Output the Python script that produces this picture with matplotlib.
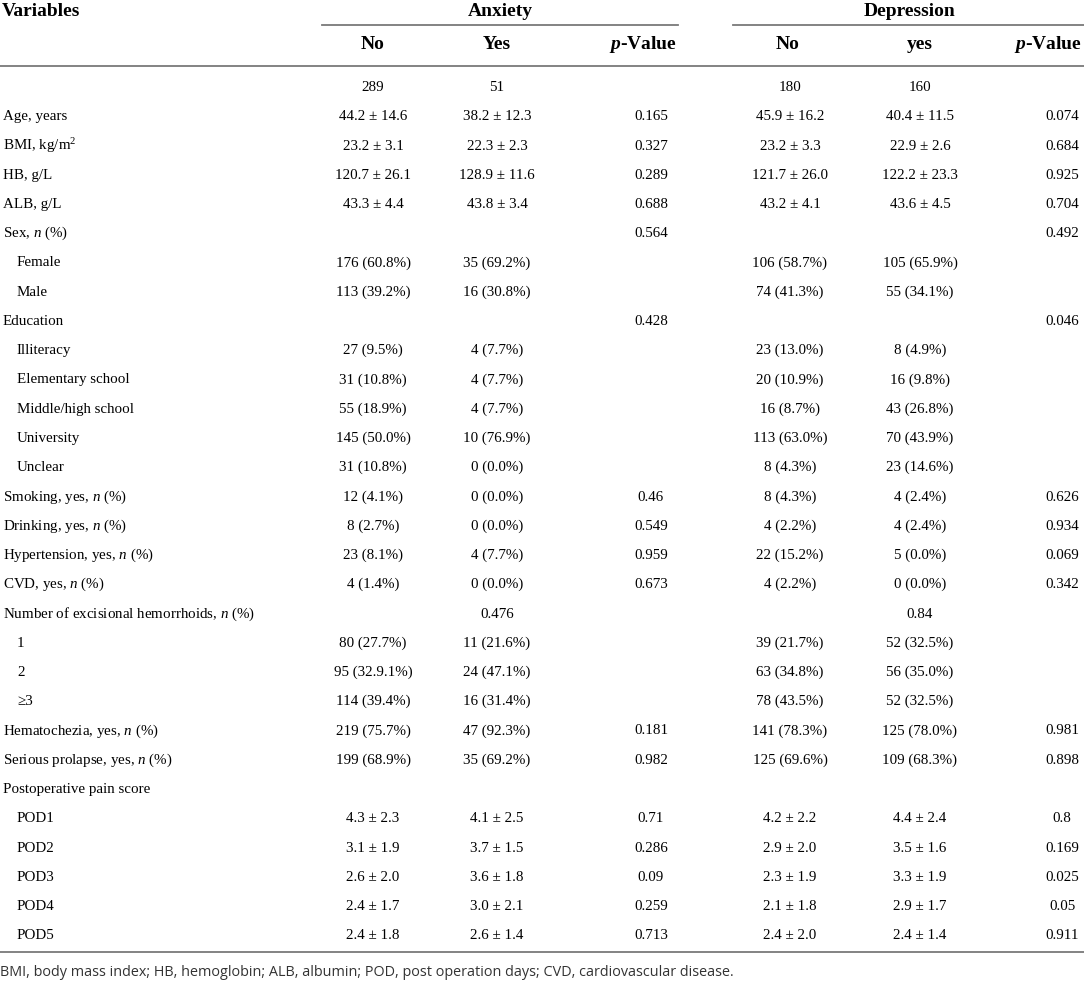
import matplotlib.pyplot as plt

plt.rcParams['mathtext.fontset'] = 'custom'
plt.rcParams['mathtext.rm'] = 'Liberation Serif'
plt.rcParams['mathtext.it'] = 'Liberation Serif:italic'
plt.rcParams['mathtext.bf'] = 'Liberation Serif:bold'
plt.rcParams['mathtext.bfit'] = 'Liberation Serif:italic:bold'

# Table content
variables = ['', 'Age, years', 'BMI, kg/m$^2$', 'HB, g/L', 'ALB, g/L', 'Sex, $n$ (%)',
             'Female', 'Male', 'Education', 'Illiteracy', 'Elementary school',
             'Middle/high school', 'University', 'Unclear', 'Smoking, yes, $n$ (%)',
             'Drinking, yes, $n$ (%)', 'Hypertension, yes, $n$ (%)', 'CVD, yes, $n$ (%)',
             'Number of excisional hemorrhoids, $n$ (%)', '1', '2', '\u22653',
             'Hematochezia, yes, $n$ (%)', 'Serious prolapse, yes, $n$ (%)',
             'Postoperative pain score', 'POD1', 'POD2', 'POD3', 'POD4', 'POD5']
indented = [0, 0, 0, 0, 0, 0, 1, 1, 0, 1, 1, 1, 1, 1, 0, 0, 0, 0, 0, 1, 1, 1,
            0, 0, 0, 1, 1, 1, 1, 1]
anx_no = ['289', '44.2 ± 14.6', '23.2 ± 3.1', '120.7 ± 26.1', '43.3 ± 4.4', '',
          '176 (60.8%)', '113 (39.2%)', '', '27 (9.5%)', '31 (10.8%)', '55 (18.9%)',
          '145 (50.0%)', '31 (10.8%)', '12 (4.1%)', '8 (2.7%)', '23 (8.1%)', '4 (1.4%)',
          '', '80 (27.7%)', '95 (32.9.1%)', '114 (39.4%)', '219 (75.7%)', '199 (68.9%)',
          '', '4.3 ± 2.3', '3.1 ± 1.9', '2.6 ± 2.0', '2.4 ± 1.7', '2.4 ± 1.8']
anx_yes = ['51', '38.2 ± 12.3', '22.3 ± 2.3', '128.9 ± 11.6', '43.8 ± 3.4', '',
           '35 (69.2%)', '16 (30.8%)', '', '4 (7.7%)', '4 (7.7%)', '4 (7.7%)',
           '10 (76.9%)', '0 (0.0%)', '0 (0.0%)', '0 (0.0%)', '4 (7.7%)', '0 (0.0%)',
           '0.476', '11 (21.6%)', '24 (47.1%)', '16 (31.4%)', '47 (92.3%)', '35 (69.2%)',
           '', '4.1 ± 2.5', '3.7 ± 1.5', '3.6 ± 1.8', '3.0 ± 2.1', '2.6 ± 1.4']
anx_p = ['', '0.165', '0.327', '0.289', '0.688', '0.564', '', '', '0.428', '', '', '',
         '', '', '0.46', '0.549', '0.959', '0.673', '', '', '', '', '0.181', '0.982',
         '', '0.71', '0.286', '0.09', '0.259', '0.713']
dep_no = ['180', '45.9 ± 16.2', '23.2 ± 3.3', '121.7 ± 26.0', '43.2 ± 4.1', '',
          '106 (58.7%)', '74 (41.3%)', '', '23 (13.0%)', '20 (10.9%)', '16 (8.7%)',
          '113 (63.0%)', '8 (4.3%)', '8 (4.3%)', '4 (2.2%)', '22 (15.2%)', '4 (2.2%)',
          '', '39 (21.7%)', '63 (34.8%)', '78 (43.5%)', '141 (78.3%)', '125 (69.6%)',
          '', '4.2 ± 2.2', '2.9 ± 2.0', '2.3 ± 1.9', '2.1 ± 1.8', '2.4 ± 2.0']
dep_yes = ['160', '40.4 ± 11.5', '22.9 ± 2.6', '122.2 ± 23.3', '43.6 ± 4.5', '',
           '105 (65.9%)', '55 (34.1%)', '', '8 (4.9%)', '16 (9.8%)', '43 (26.8%)',
           '70 (43.9%)', '23 (14.6%)', '4 (2.4%)', '4 (2.4%)', '5 (0.0%)', '0 (0.0%)',
           '0.84', '52 (32.5%)', '56 (35.0%)', '52 (32.5%)', '125 (78.0%)', '109 (68.3%)',
           '', '4.4 ± 2.4', '3.5 ± 1.6', '3.3 ± 1.9', '2.9 ± 1.7', '2.4 ± 1.4']
dep_p = ['', '0.074', '0.684', '0.925', '0.704', '0.492', '', '', '0.046', '', '', '',
         '', '', '0.626', '0.934', '0.069', '0.342', '', '', '', '', '0.981', '0.898',
         '', '0.8', '0.169', '0.025', '0.05', '0.911']

footnote = ('BMI, body mass index; HB, hemoglobin; ALB, albumin; POD, post operation '
            'days; CVD, cardiovascular disease.')

W, H = 1084, 982
fig = plt.figure(figsize=(W / 100, H / 100), dpi=100)
ax = fig.add_axes([0, 0, 1, 1])
ax.set_xlim(0, W)
ax.set_ylim(H, 0)
ax.axis('off')

serif = 'Liberation Serif'
body = 10.8
head = 14
line_c = '#7a7a7a'

# header
ax.text(2, 16, 'Variables', fontfamily=serif, fontweight='bold', fontsize=head,
        va='baseline', ha='left')
ax.text(500, 16, 'Anxiety', fontfamily=serif, fontweight='bold', fontsize=head,
        va='baseline', ha='center')
ax.text(910, 16, 'Depression', fontfamily=serif, fontweight='bold', fontsize=head,
        va='baseline', ha='center')
ax.plot([322, 678], [25, 25], color=line_c, lw=1.3)
ax.plot([733, 1084], [25, 25], color=line_c, lw=1.3)

sub = ['No', 'Yes', r'$\mathbfit{p}$-Value', 'No', 'yes', r'$\mathbfit{p}$-Value']
sub_x = [373, 497, 643, 788, 920, 1048]
for s, x in zip(sub, sub_x):
    ax.text(x, 49, s, fontfamily=serif, fontweight='bold', fontsize=head,
            va='baseline', ha='center')
ax.plot([0, W], [66, 66], color=line_c, lw=1.3)

# body rows
y0, dy = 87, 29.25
col_x = [373, 497, 651, 790, 920, 1062]
cols = [anx_no, anx_yes, anx_p, dep_no, dep_yes, dep_p]
for i, name in enumerate(variables):
    y = y0 + i * dy + 4
    ax.text(3 + 14 * indented[i], y, name, fontfamily=serif, fontsize=body,
            va='baseline', ha='left')
    for x, col in zip(col_x, cols):
        if col[i]:
            ax.text(x, y, col[i], fontfamily=serif, fontsize=body,
                    va='baseline', ha='center')

ax.plot([0, W], [952, 952], color=line_c, lw=1.3)
ax.text(0, 973, footnote, fontfamily='Open Sans', fontsize=10.4, color='#333333',
        va='center', ha='left')

fig.savefig('out.png', dpi=100)
